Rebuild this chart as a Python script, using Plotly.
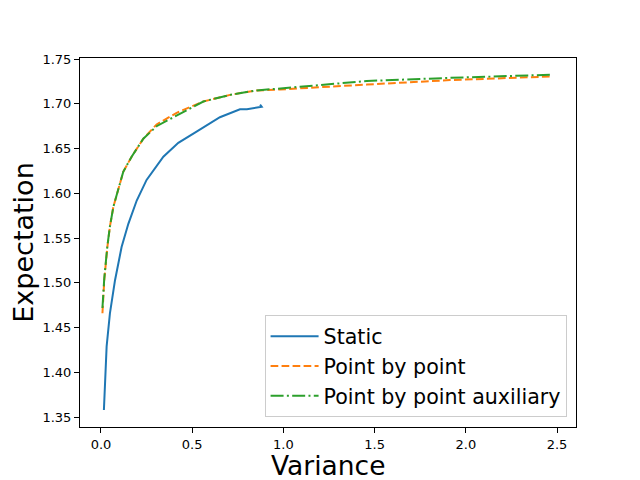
import plotly.graph_objects as go

# values
static_var = [0.016, 0.031, 0.049, 0.077, 0.113, 0.150, 0.196, 0.250, 0.342, 0.424,
              0.524, 0.652, 0.762, 0.800, 0.881, 0.872]
static_exp = [1.358, 1.429, 1.466, 1.503, 1.540, 1.566, 1.592, 1.615, 1.641, 1.6565,
              1.669, 1.685, 1.694, 1.694, 1.6967, 1.699]

pbp_var = [0.008, 0.018, 0.035, 0.049, 0.068, 0.095, 0.122, 0.168, 0.232, 0.305,
           0.415, 0.561, 0.707, 0.854, 0.980, 1.457, 1.913, 2.460]
pbp_exp = [1.466, 1.503, 1.540, 1.563, 1.585, 1.604, 1.624, 1.641, 1.661, 1.677,
           1.690, 1.7026, 1.710, 1.715, 1.716, 1.7215, 1.7265, 1.7305]

aux_var = [0.008, 0.018, 0.035, 0.049, 0.068, 0.095, 0.122, 0.168, 0.232, 0.305,
           0.415, 0.561, 0.707, 0.854, 1.090, 1.457, 1.913, 2.470]
aux_exp = [1.472, 1.505, 1.541, 1.563, 1.585, 1.604, 1.624, 1.641, 1.661, 1.675,
           1.687, 1.7026, 1.710, 1.715, 1.719, 1.7255, 1.729, 1.7325]

x_ticks = [0.0, 0.5, 1.0, 1.5, 2.0, 2.5]
y_ticks = [1.35, 1.40, 1.45, 1.50, 1.55, 1.60, 1.65, 1.70, 1.75]

fig = go.Figure()

fig.add_trace(go.Scatter(x=static_var, y=static_exp, mode='lines', name='Static',
                         line=dict(color='#1f77b4', width=2)))
fig.add_trace(go.Scatter(x=pbp_var, y=pbp_exp, mode='lines', name='Point by point',
                         line=dict(color='#ff7f0e', width=2, dash='7.7px,3.3px')))
fig.add_trace(go.Scatter(x=aux_var, y=aux_exp, mode='lines', name='Point by point auxiliary',
                         line=dict(color='#2ca02c', width=2, dash='13px,3.3px,2px,3.3px')))

axis_style = dict(
    showline=True, linecolor='black', linewidth=1, mirror=True,
    ticks='outside', ticklen=5, tickwidth=1, tickcolor='black',
    showgrid=False, zeroline=False, automargin=False,
    tickfont=dict(size=13, color='black'),
)

# the page body has an 8px margin, so the figure is 8px smaller and margins shifted
fig.update_layout(
    width=632, height=472,
    margin=dict(l=72, r=64, t=50, b=53),
    paper_bgcolor='white', plot_bgcolor='white',
    font=dict(family='DejaVu Sans', color='black'),
    xaxis=dict(axis_style, range=[-0.115, 2.604], tickvals=x_ticks,
               ticktext=[f'{v:.1f}' for v in x_ticks]),
    yaxis=dict(axis_style, range=[1.3390, 1.7512], tickvals=y_ticks,
               ticktext=[f'{v:.2f}' for v in y_ticks],
               title=dict(text='Expectation', font=dict(size=27), standoff=8)),
    legend=dict(x=0.981, y=0.026, xanchor='right', yanchor='bottom',
                bgcolor='rgba(255,255,255,0.8)', bordercolor='#cccccc', borderwidth=1,
                font=dict(size=20.6), itemwidth=48, entrywidth=279),
)

# x title as an annotation so it can sit a little lower under the tick labels
fig.add_annotation(text='Variance', xref='paper', yref='paper', x=0.5, y=0,
                   xanchor='center', yanchor='top', yshift=-22, borderpad=0,
                   showarrow=False, font=dict(size=26.5))

fig.write_html("out.html")
